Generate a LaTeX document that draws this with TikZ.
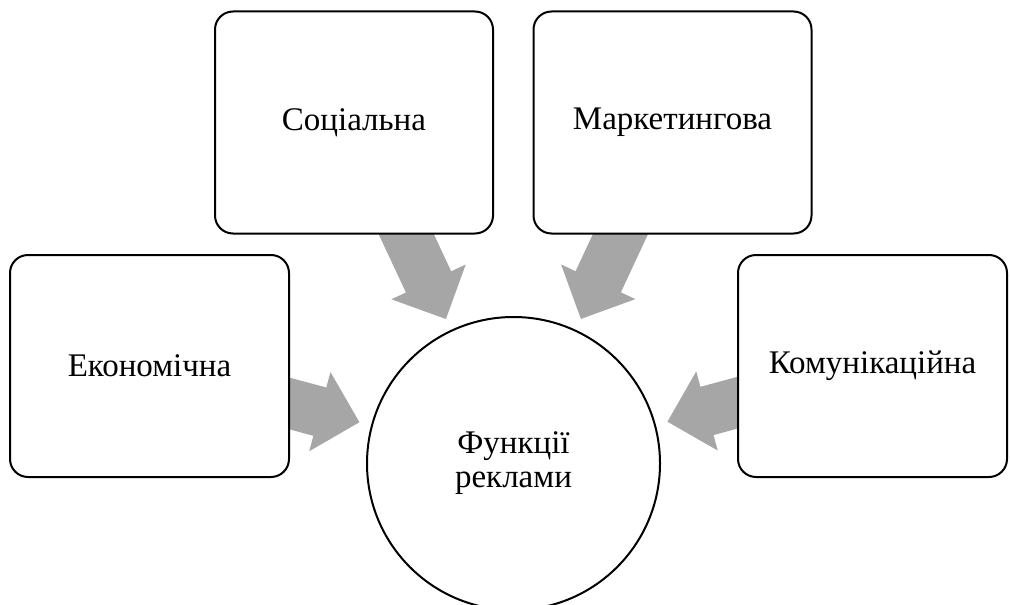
\documentclass[tikz,border=0pt]{standalone}
\usepackage{fontspec}
\setmainfont{Liberation Serif}
\usetikzlibrary{calc,backgrounds}
\definecolor{arrowgray}{HTML}{A6A6A6}
\newcommand{\fatarrow}[2]{%
	\path ($(#2.center)!79.75pt!(#1.center)$) coordinate (tip)
		($(tip)!20.5pt!(#1.center)$) coordinate (base);
	\fill[arrowgray] ($(#1.center)!12.5pt!90:(tip)$) -- ($(base)!12.5pt!90:(tip)$)
		-- ($(base)!20.5pt!90:(tip)$) -- (tip) -- ($(base)!20.5pt!-90:(tip)$)
		-- ($(base)!12.5pt!-90:(tip)$) -- ($(#1.center)!12.5pt!-90:(tip)$) -- cycle;}

\begin{document}
\begin{tikzpicture}[x=0.5pt,y=-0.5pt,
		box/.style={draw,line width=1pt,rounded corners=9pt,fill=white,minimum height=111pt,inner sep=0pt,font=\fontsize{16.5}{19}\selectfont},
		hub/.style={draw,circle,line width=1pt,fill=white,minimum size=146.5pt,inner sep=0pt,align=center,font=\fontsize{16.5}{17}\selectfont}]
	\useasboundingbox (0,0) rectangle (1010,604);
	\clip (0,0) rectangle (1010,604);
	\node[hub] (func) at (513.5,463.5) {Функції\\реклами};
	\node[box,minimum width=139pt] (soc) at (354,122.5) {Соціальна};
	\node[box,minimum width=139pt] (mark) at (672.5,122.5) {Маркетингова};
	\node[box,minimum width=139.5pt] (econ) at (149.5,366) {Економічна};
	\node[box,minimum width=134.5pt] (comm) at (872.5,366) {Комунікаційна};
	\begin{scope}[on background layer]
		\fatarrow{soc}{func}
		\fatarrow{mark}{func}
		\fatarrow{econ}{func}
		\fatarrow{comm}{func}
	\end{scope}
\end{tikzpicture}
\end{document}
